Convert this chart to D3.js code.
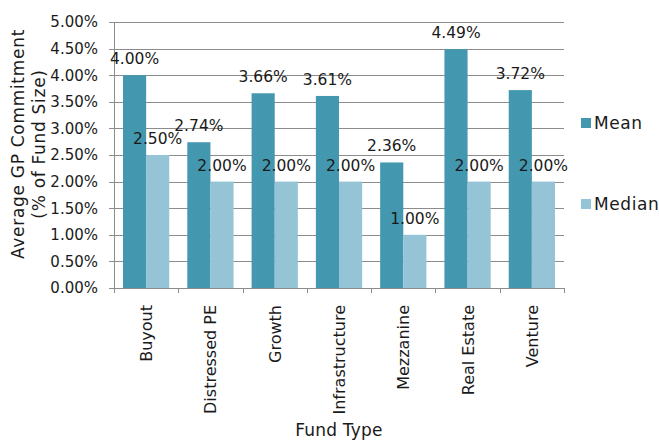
<!DOCTYPE html>
<html>
<head>
<meta charset="utf-8">
<script src="https://cdn.jsdelivr.net/npm/d3@7"></script>
<style>
  body { margin: 0; background: #fff; }
  svg text { font-family: "DejaVu Sans", sans-serif; fill: #1a1a1a; }
</style>
</head>
<body>
<svg id="chart" width="659" height="441"></svg>
<script>
// Fund types and average GP commitment as a share of fund size (%)
const categories = ["Buyout", "Distressed PE", "Growth", "Infrastructure", "Mezzanine", "Real Estate", "Venture"];
const meanValues = [4.00, 2.74, 3.66, 3.61, 2.36, 4.49, 3.72];
const medianValues = [2.50, 2.00, 2.00, 2.00, 1.00, 2.00, 2.00];
const seriesNames = ["Mean", "Median"];
const yTicks = [0, 0.5, 1, 1.5, 2, 2.5, 3, 3.5, 4, 4.5, 5];

const colors = { Mean: "#4397ae", Median: "#94c4d5" };

const svg = d3.select("#chart");
const margin = { left: 114, right: 95, top: 22, bottom: 153 };
const W = 659, H = 441;
const x0 = margin.left, x1 = W - margin.right;
const yTop = margin.top, yBot = H - margin.bottom;

const x = d3.scaleBand().domain(categories).range([x0, x1]).paddingInner(0).paddingOuter(0);
const inner = d3.scaleBand().domain(seriesNames).range([0, x.bandwidth()]).paddingInner(0).paddingOuter(0.39);
const y = d3.scaleLinear().domain([0, 5]).range([yBot, yTop]);

const fmt = v => v.toFixed(2) + "%";

// gridlines
svg.append("g")
  .selectAll("line").data(yTicks).join("line")
  .attr("x1", x0 - 5).attr("x2", x1)
  .attr("y1", d => Math.round(y(d)) + 0.5).attr("y2", d => Math.round(y(d)) + 0.5)
  .attr("stroke", "#8c8c8c").attr("stroke-width", 1);

// y axis
const yAxis = d3.axisLeft(y).tickValues(yTicks).tickFormat(fmt).tickSize(0).tickPadding(16);
const gy = svg.append("g").attr("transform", `translate(${x0},0)`).call(yAxis);
gy.select(".domain").remove();
gy.selectAll("text").attr("font-size", 15).attr("font-family", null).style("fill", "#1a1a1a");
svg.append("line").attr("x1", x0 + 0.5).attr("x2", x0 + 0.5).attr("y1", yTop).attr("y2", yBot)
  .attr("stroke", "#8c8c8c");

// bars
const rows = categories.map((c, i) => ({ c, vals: [{ s: "Mean", v: meanValues[i] }, { s: "Median", v: medianValues[i] }] }));
const groups = svg.append("g").selectAll("g").data(rows).join("g")
  .attr("transform", d => `translate(${x(d.c)},0)`);
groups.selectAll("rect").data(d => d.vals).join("rect")
  .attr("x", d => inner(d.s))
  .attr("width", inner.bandwidth())
  .attr("y", d => y(d.v))
  .attr("height", d => yBot - y(d.v))
  .attr("fill", d => colors[d.s]);

// x axis
const xAxis = d3.axisBottom(x).tickSize(0).tickFormat("");
const gx = svg.append("g").attr("transform", `translate(0,${yBot})`).call(xAxis);
gx.select(".domain").attr("stroke", "#8c8c8c");
gx.selectAll(".tick").remove();
const edges = categories.map(c => x(c)).concat([x1]);
svg.append("g").selectAll("line").data(edges).join("line")
  .attr("x1", d => Math.round(d) + 0.5).attr("x2", d => Math.round(d) + 0.5)
  .attr("y1", yBot).attr("y2", yBot + 5)
  .attr("stroke", "#8c8c8c");

// value labels
groups.selectAll("text.val").data(d => d.vals).join("text")
  .attr("class", "val")
  .attr("x", d => inner(d.s) + inner.bandwidth() / 2)
  .attr("y", d => y(d.v) - 11)
  .attr("text-anchor", "middle")
  .attr("font-size", 15.5)
  .text(d => fmt(d.v));

// category labels
svg.append("g").selectAll("text").data(categories).join("text")
  .attr("transform", d => `translate(${x(d) + x.bandwidth() / 2 + 6},${yBot + 17}) rotate(-90)`)
  .attr("text-anchor", "end")
  .attr("font-size", 16)
  .text(d => d);

// axis titles
svg.append("text")
  .attr("x", (x0 + x1) / 2).attr("y", 436)
  .attr("text-anchor", "middle").attr("font-size", 17)
  .attr("letter-spacing", 0.2)
  .text("Fund Type");

const yt = svg.append("text")
  .attr("transform", `translate(24,144) rotate(-90)`)
  .attr("text-anchor", "middle").attr("font-size", 17)
  .attr("letter-spacing", 0.7);
yt.append("tspan").attr("x", 0).attr("dy", 0).text("Average GP Commitment");
yt.append("tspan").attr("x", 0).attr("dy", 21).text("(% of Fund Size)");

// legend
const legend = svg.append("g").selectAll("g").data(seriesNames).join("g")
  .attr("transform", (d, i) => `translate(581,${118 + i * 81})`);
legend.append("rect").attr("width", 10).attr("height", 10).attr("fill", d => colors[d]);
legend.append("text").attr("x", 13).attr("y", 11).attr("font-size", 17)
  .attr("letter-spacing", 0.6).text(d => d);
</script>
</body>
</html>
